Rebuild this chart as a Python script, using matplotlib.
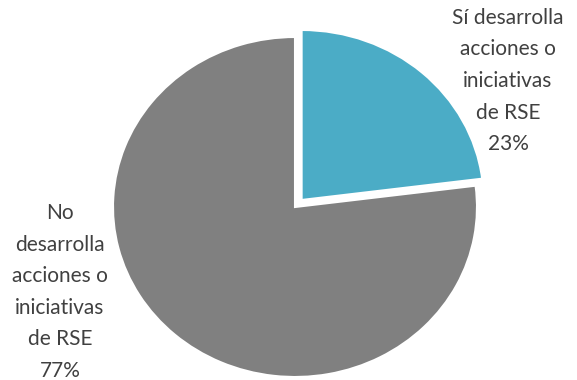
import matplotlib
matplotlib.use("Agg")
import matplotlib.pyplot as plt

labels = ["Sí desarrolla\nacciones o\niniciativas\nde RSE", "No\ndesarrolla\nacciones o\niniciativas\nde RSE"]
values = [23, 77]
colors = ["#4BACC6", "#808080"]
explode = [0.055, 0.0]

fig = plt.figure(figsize=(5.77, 3.80), dpi=100)
ax = fig.add_axes([0, 0, 1, 1])
W, H = 577, 380
cx, cy, rx, ry = 295, 207, 182, 170

wedges, _ = ax.pie(values, colors=colors, startangle=90, counterclock=False,
                   explode=explode, radius=1.0,
                   wedgeprops=dict(edgecolor='white', linewidth=1.5))
ax.set_xlim((0 - cx) / rx, (W - cx) / rx)
ax.set_ylim((cy - H) / ry, (cy - 0) / ry)
ax.set_aspect('auto')
ax.axis('off')

label_pos = [(508, 81), (60, 292)]
for lab, v, (px, py) in zip(labels, values, label_pos):
    fig.text(px / W, 1 - py / H, f"{lab}\n{v}%", ha='center', va='center',
             fontsize=15, family='Lato', color='#404040', linespacing=1.72)

fig.savefig("out.png", dpi=100)
